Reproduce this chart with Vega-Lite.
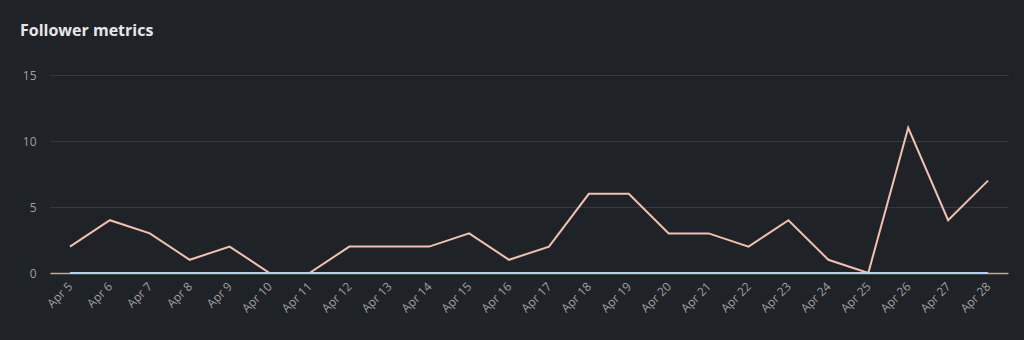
{
  "$schema": "https://vega.github.io/schema/vega-lite/v6.json",
  "width": 958,
  "height": 198,
  "autosize": "none",
  "padding": {"left": 50, "top": 75, "right": 16, "bottom": 67},
  "background": "#1f2226",
  "title": {
    "text": "Follower metrics",
    "anchor": "start",
    "frame": "group",
    "dx": -30,
    "offset": 17,
    "fontSize": 16,
    "fontWeight": "bold",
    "font": "Open Sans",
    "color": "#e6e6ea",
    "baseline": "alphabetic"
  },
  "config": {
    "view": {"stroke": null},
    "font": "Open Sans"
  },
  "data": {
    "values": [
      {"day": "Apr 5", "series": "Followers", "value": 2},
      {"day": "Apr 6", "series": "Followers", "value": 4},
      {"day": "Apr 7", "series": "Followers", "value": 3},
      {"day": "Apr 8", "series": "Followers", "value": 1},
      {"day": "Apr 9", "series": "Followers", "value": 2},
      {"day": "Apr 10", "series": "Followers", "value": 0},
      {"day": "Apr 11", "series": "Followers", "value": 0},
      {"day": "Apr 12", "series": "Followers", "value": 2},
      {"day": "Apr 13", "series": "Followers", "value": 2},
      {"day": "Apr 14", "series": "Followers", "value": 2},
      {"day": "Apr 15", "series": "Followers", "value": 3},
      {"day": "Apr 16", "series": "Followers", "value": 1},
      {"day": "Apr 17", "series": "Followers", "value": 2},
      {"day": "Apr 18", "series": "Followers", "value": 6},
      {"day": "Apr 19", "series": "Followers", "value": 6},
      {"day": "Apr 20", "series": "Followers", "value": 3},
      {"day": "Apr 21", "series": "Followers", "value": 3},
      {"day": "Apr 22", "series": "Followers", "value": 2},
      {"day": "Apr 23", "series": "Followers", "value": 4},
      {"day": "Apr 24", "series": "Followers", "value": 1},
      {"day": "Apr 25", "series": "Followers", "value": 0},
      {"day": "Apr 26", "series": "Followers", "value": 11},
      {"day": "Apr 27", "series": "Followers", "value": 4},
      {"day": "Apr 28", "series": "Followers", "value": 7},
      {"day": "Apr 5", "series": "Unfollows", "value": 0},
      {"day": "Apr 6", "series": "Unfollows", "value": 0},
      {"day": "Apr 7", "series": "Unfollows", "value": 0},
      {"day": "Apr 8", "series": "Unfollows", "value": 0},
      {"day": "Apr 9", "series": "Unfollows", "value": 0},
      {"day": "Apr 10", "series": "Unfollows", "value": 0},
      {"day": "Apr 11", "series": "Unfollows", "value": 0},
      {"day": "Apr 12", "series": "Unfollows", "value": 0},
      {"day": "Apr 13", "series": "Unfollows", "value": 0},
      {"day": "Apr 14", "series": "Unfollows", "value": 0},
      {"day": "Apr 15", "series": "Unfollows", "value": 0},
      {"day": "Apr 16", "series": "Unfollows", "value": 0},
      {"day": "Apr 17", "series": "Unfollows", "value": 0},
      {"day": "Apr 18", "series": "Unfollows", "value": 0},
      {"day": "Apr 19", "series": "Unfollows", "value": 0},
      {"day": "Apr 20", "series": "Unfollows", "value": 0},
      {"day": "Apr 21", "series": "Unfollows", "value": 0},
      {"day": "Apr 22", "series": "Unfollows", "value": 0},
      {"day": "Apr 23", "series": "Unfollows", "value": 0},
      {"day": "Apr 24", "series": "Unfollows", "value": 0},
      {"day": "Apr 25", "series": "Unfollows", "value": 0},
      {"day": "Apr 26", "series": "Unfollows", "value": 0},
      {"day": "Apr 27", "series": "Unfollows", "value": 0},
      {"day": "Apr 28", "series": "Unfollows", "value": 0}
    ]
  },
  "mark": {"type": "line", "strokeWidth": 2, "interpolate": "linear"},
  "encoding": {
    "x": {
      "field": "day",
      "type": "ordinal",
      "sort": null,
      "scale": {"type": "point", "padding": 0.5},
      "axis": {
        "title": null,
        "labelAngle": -45,
        "labelAlign": "right",
        "labelBaseline": "middle",
        "labelColor": "#a0a0a4",
        "labelFontSize": 12,
        "labelPadding": 11,
        "ticks": false,
        "domain": true,
        "domainColor": "#c7aaa0",
        "domainWidth": 1.5,
        "grid": false
      }
    },
    "y": {
      "field": "value",
      "type": "quantitative",
      "scale": {"domain": [0, 15]},
      "axis": {
        "title": null,
        "values": [0, 5, 10, 15],
        "labelColor": "#a0a0a4",
        "labelFontSize": 12,
        "labelPadding": 14,
        "ticks": false,
        "domain": false,
        "grid": true,
        "gridColor": "#363a3f",
        "gridWidth": 1
      }
    },
    "color": {
      "field": "series",
      "type": "nominal",
      "scale": {"domain": ["Followers", "Unfollows"], "range": ["#f2c1b2", "#b3d1f2"]},
      "legend": null
    },
    "order": {"field": "series"}
  }
}
